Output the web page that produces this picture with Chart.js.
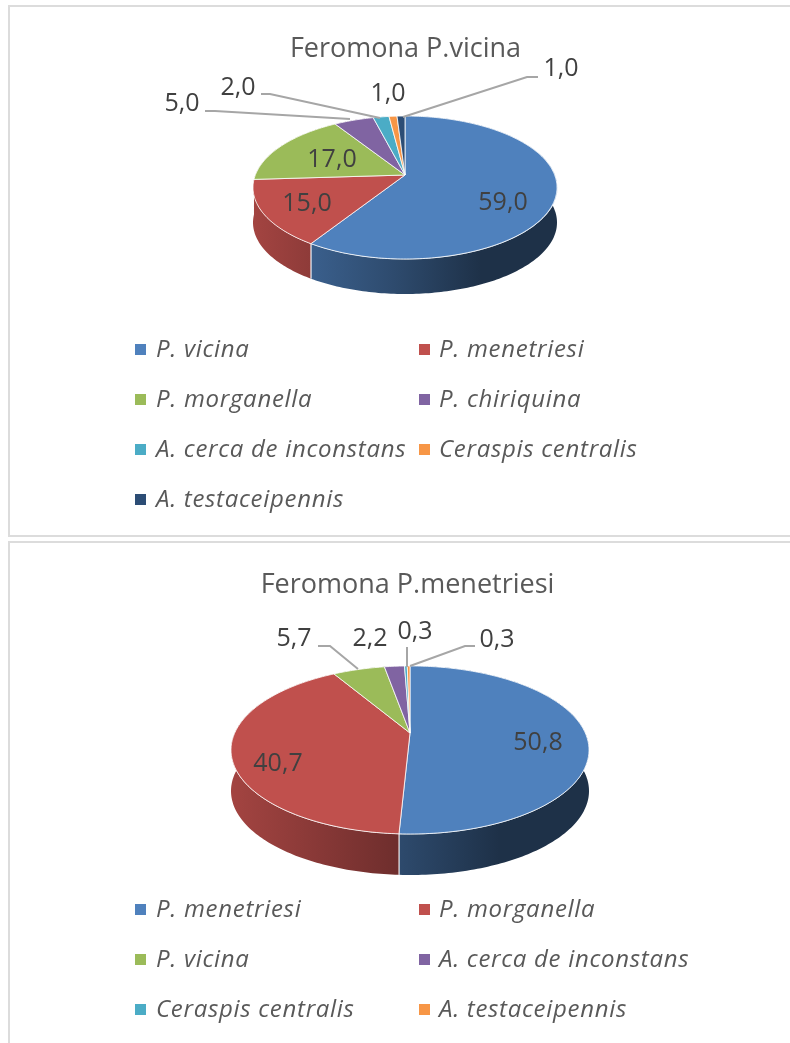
<!DOCTYPE html>
<html>
<head>
<meta charset="utf-8">
<script src="https://cdn.jsdelivr.net/npm/chart.js@4/dist/chart.umd.min.js"></script>
<style>
html,body{margin:0;padding:0;background:#fff;width:790px;height:1043px;overflow:hidden}
.frame{position:absolute;box-sizing:border-box;border:2.5px solid #dcdcdc}
canvas{position:absolute;left:0;filter:blur(0.45px)}
</style>
</head>
<body>
<div class="frame" style="left:7.5px;top:5px;width:790px;height:531.5px"></div>
<div class="frame" style="left:7.5px;top:541px;width:790px;height:510px"></div>
<canvas id="c1" width="790" height="534" style="top:0"></canvas>
<canvas id="c2" width="790" height="500" style="top:543px"></canvas>
<script>
// ---- data ----
const titleA = 'Feromona P.vicina';
const categoriesA = ['P. vicina','P. menetriesi','P. morganella','P. chiriquina','A. cerca de inconstans','Ceraspis centralis','A. testaceipennis'];
const valuesA = [59,15,17,5,2,1,1];
const coloursA = ['#4f81bd','#c0504d','#9bbb59','#8064a2','#4bacc6','#f79646','#2c4d75'];

const titleB = 'Feromona P.menetriesi';
const categoriesB = ['P. menetriesi','P. morganella','P. vicina','A. cerca de inconstans','Ceraspis centralis','A. testaceipennis'];
const valuesB = [50.8,40.7,5.7,2.2,0.3,0.3];
const coloursB = ['#4f81bd','#c0504d','#9bbb59','#8064a2','#4bacc6','#f79646'];

// ---- layout of each picture (page coordinates) ----
const layoutA = {
  canvasTop:0, titleTop:33.5, titleShift:21,
  apex:[405,175], rx:152, centre:[405.5,187.5], ry:71.5, persp:0.175, radial:69.3, depth:35,
  labels:[[503,203],[307,204],[332,160],[182,104],[238,88],[388,94],[561,69]],
  leaders:[null,null,null,
    [[205,111],[215,111],[350,119]],
    [[261,94],[270,94],[380,118]],
    null,
    [[538,77],[527,77],[403,117]]],
  legendRows:[349,399,449,499]
};
const layoutB = {
  canvasTop:543, titleTop:26, titleShift:25,
  apex:[410,733], rx:179, centre:[410,750], ry:84, persp:0.202, radial:80.6, depth:41,
  labels:[[538,743],[278,764],[294,639],[370,639],[415,632],[497,640]],
  leaders:[null,null,
    [[318,646],[330,646],[358,669]],
    null,
    [[407,647],[407,667]],
    [[475,646],[465,646],[410,666]]],
  legendRows:[909,959,1009]
};
const legendMarkX = [135,419], legendTextX = [156,439];
const FONT = '"Open Sans", sans-serif';

const shadeStops = [[0,.85],[.19,.74],[.46,.58],[.75,.38],[1,.38]];
function rgb(hex,f){
  const n=parseInt(hex.slice(1),16);
  return `rgb(${Math.round((n>>16&255)*f)},${Math.round((n>>8&255)*f)},${Math.round((n&255)*f)})`;
}
// Projects a chart angle onto the tilted disc rim.
function rim(L,angle){
  const u=Math.cos(angle), v=Math.sin(angle);
  const w=1-L.persp*v, rp=L.rx*Math.sqrt(1-L.persp*L.persp);
  return [L.apex[0]+rp*u/w, L.apex[1]+L.radial*v/w];
}
function rimPoints(L,a0,a1){
  const n=Math.max(2,Math.ceil((a1-a0)/(Math.PI/180)));
  const pts=[];
  for(let i=0;i<=n;i++) pts.push(rim(L,a0+(a1-a0)*i/n));
  return pts;
}

const tiltedPie = {
  id:'tiltedPie',
  beforeDatasetsDraw(chart,args,opts){
    const L=opts.layout, ctx=chart.ctx, arcs=chart.getDatasetMeta(0).data, cols=chart.data.datasets[0].backgroundColor;
    ctx.save();
    ctx.translate(0,-L.canvasTop);
    // side wall, back slices first
    const order=arcs.map((a,i)=>i).sort((i,j)=>
      Math.sin((arcs[i].startAngle+arcs[i].endAngle)/2)-Math.sin((arcs[j].startAngle+arcs[j].endAngle)/2));
    order.forEach(i=>{
      const a=arcs[i], pts=rimPoints(L,a.startAngle,a.endAngle);
      const g=ctx.createLinearGradient(L.centre[0]-L.rx,0,L.centre[0]+L.rx,0);
      shadeStops.forEach(s=>g.addColorStop(s[0],rgb(cols[i],s[1])));
      ctx.beginPath();
      pts.forEach((p,k)=>k?ctx.lineTo(p[0],p[1]):ctx.moveTo(p[0],p[1]));
      pts.slice().reverse().forEach(p=>ctx.lineTo(p[0],p[1]+L.depth));
      ctx.closePath();
      ctx.fillStyle=g; ctx.fill();
      ctx.strokeStyle='rgba(255,255,255,.85)'; ctx.lineWidth=1;
      ctx.beginPath();
      [pts[0],pts[pts.length-1]].forEach(p=>{
        if(p[1]>L.centre[1]){ctx.moveTo(p[0],p[1]);ctx.lineTo(p[0],p[1]+L.depth);}
      });
      ctx.stroke();
    });
    ctx.restore();
    // the library's arcs, flattened onto the disc
    const a0=arcs[0];
    ctx.save();
    ctx.translate(L.centre[0],L.centre[1]-L.canvasTop);
    ctx.scale(1,L.ry/L.rx);
    ctx.translate(-a0.x,-a0.y);
  },
  afterDatasetsDraw(chart,args,opts){
    const L=opts.layout, ctx=chart.ctx, arcs=chart.getDatasetMeta(0).data, ds=chart.data.datasets[0];
    ctx.restore();
    ctx.save();
    ctx.translate(0,-L.canvasTop);
    // perspective correction of the top face
    arcs.forEach((a,i)=>{
      ctx.beginPath();
      ctx.moveTo(L.apex[0],L.apex[1]);
      rimPoints(L,a.startAngle,a.endAngle).forEach(p=>ctx.lineTo(p[0],p[1]));
      ctx.closePath();
      ctx.fillStyle=ds.backgroundColor[i]; ctx.fill();
      ctx.strokeStyle='rgba(255,255,255,.8)'; ctx.lineWidth=1; ctx.stroke();
    });
    // leader lines
    ctx.strokeStyle='#a6a6a6'; ctx.lineWidth=2;
    L.leaders.forEach(l=>{
      if(!l) return;
      ctx.beginPath();
      l.forEach((p,k)=>k?ctx.lineTo(p[0],p[1]):ctx.moveTo(p[0],p[1]));
      ctx.stroke();
    });
    // value labels
    ctx.fillStyle='#404040'; ctx.font='25px '+FONT; ctx.textAlign='center'; ctx.textBaseline='middle';
    ds.data.forEach((v,i)=>ctx.fillText(v.toFixed(1).replace('.',','),L.labels[i][0],L.labels[i][1]));
    // legend
    ctx.font='italic 24px '+FONT; ctx.textAlign='left'; ctx.letterSpacing='0.7px';
    chart.data.labels.forEach((t,i)=>{
      const col=i%2, y=L.legendRows[Math.floor(i/2)];
      ctx.fillStyle=ds.backgroundColor[i];
      ctx.fillRect(legendMarkX[col],y-5,11,11);
      ctx.fillStyle='#595959';
      ctx.fillText(t,legendTextX[col],y+1);
    });
    ctx.letterSpacing='0px';
    ctx.restore();
  }
};

function build(id,title,cats,vals,cols,L){
  new Chart(document.getElementById(id),{
    type:'pie',
    data:{labels:cats,datasets:[{data:vals,backgroundColor:cols,borderColor:'#ffffff',borderWidth:1,radius:L.rx,clip:false}]},
    options:{
      responsive:false,animation:false,
      layout:{padding:{top:L.titleTop,left:L.titleShift,right:0,bottom:0}},
      plugins:{
        legend:{display:false},tooltip:{enabled:false},
        title:{display:true,text:title,color:'#595959',padding:0,font:{family:FONT,size:27,weight:'normal',lineHeight:1.2}},
        tiltedPie:{layout:L}
      }
    },
    plugins:[tiltedPie]
  });
}
build('c1',titleA,categoriesA,valuesA,coloursA,layoutA);
build('c2',titleB,categoriesB,valuesB,coloursB,layoutB);
</script>
</body>
</html>
